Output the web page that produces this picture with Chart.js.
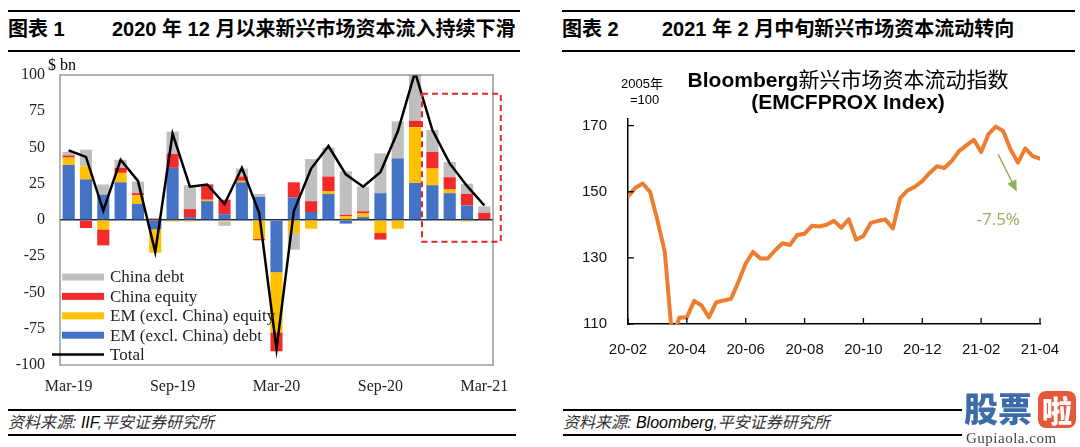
<!DOCTYPE html>
<html>
<head>
<meta charset="utf-8">
<script src="https://cdn.jsdelivr.net/npm/chart.js@4.4.1/dist/chart.umd.min.js"></script>
<style>
  body { margin: 0; width: 1080px; height: 447px; background: #fff; position: relative; overflow: hidden;
         font-family: "Liberation Sans", "Noto Sans CJK SC", sans-serif; color: #000; }
  .hdr { position: absolute; top: 10px; height: 38px; border-top: 2px solid #000; border-bottom: 2px solid #000;
         font-weight: bold; font-size: 20px; line-height: 34px; white-space: nowrap; }
  .hdr .ttl { position: absolute; top: 0; }
  .ftr { position: absolute; top: 409px; height: 23px; border-top: 2px solid #000; border-bottom: 2px solid #000;
         font-style: italic; font-size: 16px; line-height: 23px; color: #333; white-space: nowrap; }
  .ftr b { font-weight: normal; color: #000; }
  .box { position: absolute; top: 50px; width: 540px; height: 350px; }
  .unit { position: absolute; left: 48px; top: 56px; font: 16px "Liberation Serif", serif; }
  .sub { position: absolute; font-size: 13px; line-height: 18px; }
  .big { position: absolute; left: 640px; width: 416px; text-align: center; font-size: 21px; line-height: 22px; font-weight: bold; }
  .big span { font-weight: normal; }
  .wm { position: absolute; left: 962px; top: 388px; width: 118px; height: 59px; background: #fff; }
  .wm .wb { position: absolute; left: 2px; top: 0; font: 900 34px "Noto Sans CJK SC", sans-serif; color: #3d6cab; line-height: 40px; }
  .wm .wr { position: absolute; left: 76px; top: 3px; width: 38px; height: 37px; border-radius: 8px; background: #e5583a;
            color: #fff; font: 900 30px "Noto Sans CJK SC", sans-serif; line-height: 37px; text-align: center; }
  .wm .wu { position: absolute; left: 4px; top: 42px; font: 15px "Liberation Serif", serif; color: #444; letter-spacing: 0.5px; }
</style>
</head>
<body>
<div class="hdr" style="left:8px;width:512px;"><span>图表 1</span><span class="ttl" style="left:104px;">2020 年 12 月以来新兴市场资本流入持续下滑</span></div>
<div class="hdr" style="left:562px;width:513px;"><span>图表 2</span><span class="ttl" style="left:100px;">2021 年 2 月中旬新兴市场资本流动转向</span></div>

<div class="box" style="left:0;"><canvas id="flowChart"></canvas></div>
<div class="unit">$ bn</div>

<div class="box" style="left:540px;"><canvas id="emcfChart"></canvas></div>
<div class="sub" style="left:621px;top:75px;">2005年</div>
<div class="sub" style="left:630px;top:91px;">=100</div>
<div class="big" style="top:69px;">Bloomberg<span>新兴市场资本流动指数</span></div>
<div class="big" style="top:91px;">(EMCFPROX Index)</div>

<div class="ftr" style="left:8px;width:508px;">资料来源: <b>IIF</b>,平安证券研究所</div>
<div class="ftr" style="left:563px;width:512px;">资料来源: <b>Bloomberg</b>,平安证券研究所</div>

<div class="wm"><span class="wb">股票</span><span class="wr">啦</span><div class="wu">Gupiaola.com</div></div>

<script>
// 图表 1: 新兴市场资本流动 ($ bn)
const flowMonths = ['Mar-19','Apr-19','May-19','Jun-19','Jul-19','Aug-19','Sep-19','Oct-19','Nov-19','Dec-19',
  'Jan-20','Feb-20','Mar-20','Apr-20','May-20','Jun-20','Jul-20','Aug-20','Sep-20','Oct-20',
  'Nov-20','Dec-20','Jan-21','Feb-21','Mar-21'];
const emDebt      = [38, 28, 17.5, 26, 11, -6.5, 36, 2, 13, 4, 26, 16, -36, 15.5, 5.5, 18, -2.5, 2, 18.5, 42.5, 25.5, 24, 18.5, 10, 0];
const emEquity    = [5, 9, -6.5, 6.5, 6, -16, -1, -1, 1, -1, 1, -13, -41.5, -9, -6, 2, 2.5, 2.5, -9, -6, 38.5, 11.5, 2.5, -1, 0];
const chinaEquity = [1.5, -5.5, -11, 3.5, 1.5, 1, 9.5, 5.5, 10.5, 10, 3, -1, -13, 10.5, 7.5, 10, 1, 1.5, -4.5, 0, 4.5, 11.5, 8.5, 8, 5];
const chinaDebt   = [2.5, 11.5, 7, 5.5, 8, 0, 15.5, 16.5, 0, -3, 5.5, 2, 0, -11.5, 29, 20, 30, 17, 27.5, 25.5, 33, 15, 10.5, 7, 4.5];
const flowTotal   = [48, 43.5, 6.5, 41.5, 27, -22, 59.5, 23, 24.5, 11, 36, 5, -89, 6, 35.5, 51, 31.5, 23, 33, 61, 102, 62, 39, 23.5, 10];
const flowTicks   = [100, 75, 50, 25, 0, -25, -50, -75, -100];

// 图表 2: Bloomberg 新兴市场资本流动指数, 约每周一个点 (2020-02 起)
const emcfTickLabels = ['20-02', '20-04', '20-06', '20-08', '20-10', '20-12', '21-02', '21-04'];
const emcfValues = [148.6, 151.2, 152.5, 149.9, 141.4, 131.8, 106, 112, 112, 117, 115.6, 112, 116.6, 117.1, 117.6,
  122.7, 128.3, 131.8, 129.8, 129.8, 132.3, 134.4, 133.9, 136.9, 137.3, 139.7, 139.5, 140, 141.2, 139.1,
  141.7, 135.5, 136.6, 140.6, 141.2, 141.6, 138.9, 148.1, 150.4, 151.5, 153.2, 155.7, 157.7, 157.2, 159.3,
  162.3, 164, 165.7, 162, 167.4, 169.7, 168.4, 162.8, 158.8, 163.1, 160.8, 160];
const emcfYTicks = [110, 130, 150, 170];

const serif = '"Liberation Serif", "Times New Roman", serif';

// 图例画在图内左下角
const flowLegend = {
  id: 'flowLegend',
  afterDraw(chart) {
    const { ctx, chartArea } = chart;
    const order = [3, 2, 1, 0, 4];
    ctx.save();
    ctx.font = '17px ' + serif;
    ctx.textBaseline = 'middle';
    order.forEach((di, i) => {
      const ds = chart.data.datasets[di];
      const y = chartArea.bottom - 88 + i * 19.4;
      if (ds.type === 'line') {
        ctx.strokeStyle = ds.borderColor;
        ctx.lineWidth = 2.5;
        ctx.beginPath();
        ctx.moveTo(chartArea.left - 8, y);
        ctx.lineTo(chartArea.left + 44, y);
        ctx.stroke();
      } else {
        ctx.fillStyle = ds.backgroundColor;
        ctx.fillRect(chartArea.left + 2, y - 3.5, 42, 7);
      }
      ctx.fillStyle = '#222';
      ctx.fillText(ds.label, chartArea.left + 50, y + 1);
    });
    ctx.restore();
  }
};

// 图框 + 红色虚线框
const flowFrame = {
  id: 'flowFrame',
  afterDraw(chart) {
    const { ctx, chartArea, scales: { x, y } } = chart;
    ctx.save();
    ctx.strokeStyle = '#7f7f7f';
    ctx.lineWidth = 1.2;
    ctx.strokeRect(chartArea.left, chartArea.top, chartArea.right - chartArea.left, chartArea.bottom - chartArea.top);
    const l = x.getPixelForValue(20.4), r = x.getPixelForValue(24.95);
    const t = y.getPixelForValue(87), b = y.getPixelForValue(-15);
    ctx.strokeStyle = '#e0262a';
    ctx.lineWidth = 2;
    ctx.setLineDash([6, 4]);
    ctx.strokeRect(l, t, r - l, b - t);
    ctx.restore();
  }
};

new Chart(document.getElementById('flowChart'), {
  type: 'bar',
  data: {
    labels: flowMonths,
    datasets: [
      { label: 'EM (excl. China) debt', data: emDebt, backgroundColor: '#4472c4', order: 1 },
      { label: 'EM (excl. China) equity', data: emEquity, backgroundColor: '#ffc000', order: 1 },
      { label: 'China equity', data: chinaEquity, backgroundColor: '#f22a2a', order: 1 },
      { label: 'China debt', data: chinaDebt, backgroundColor: '#bfbfbf', order: 1 },
      { label: 'Total', type: 'line', data: flowTotal, borderColor: '#000', borderWidth: 2.5,
        pointRadius: 0, tension: 0, stack: 'total', order: 0 }
    ]
  },
  options: {
    responsive: true,
    maintainAspectRatio: false,
    animation: false,
    barPercentage: 0.7,
    categoryPercentage: 1,
    layout: { padding: { left: 0, right: 47, top: 25, bottom: 0 } },
    plugins: { legend: { display: false }, tooltip: { enabled: false } },
    scales: {
      x: {
        stacked: true,
        grid: { display: false },
        border: { display: false },
        afterFit: (s) => { s.height = 35; },
        ticks: {
          autoSkip: false, maxRotation: 0, padding: 4, color: '#222',
          font: { family: serif, size: 16 },
          callback: (v, i) => (i % 6 === 0 ? flowMonths[i] : '')
        }
      },
      y: {
        stacked: true,
        min: -100, max: 100,
        afterFit: (s) => { s.width = 60; },
        afterBuildTicks: (s) => { s.ticks = flowTicks.map((v) => ({ value: v })); },
        border: { display: false },
        grid: { drawTicks: false, lineWidth: 1.4, color: (c) => (c.tick && c.tick.value === 0 ? '#1f2a44' : 'rgba(0,0,0,0)') },
        ticks: { padding: 15, color: '#222', font: { family: serif, size: 16 } }
      }
    }
  },
  plugins: [flowFrame, flowLegend]
});

// 内向刻度 + 箭头注释
const emcfDecor = {
  id: 'emcfDecor',
  afterDraw(chart) {
    const { ctx, scales: { x, y } } = chart;
    ctx.save();
    ctx.strokeStyle = '#000';
    ctx.lineWidth = 1.3;
    x.ticks.forEach((t) => {
      const px = x.getPixelForValue(t.value);
      ctx.beginPath(); ctx.moveTo(px, y.bottom); ctx.lineTo(px, y.bottom - 6); ctx.stroke();
    });
    y.ticks.forEach((t) => {
      const py = y.getPixelForValue(t.value);
      ctx.beginPath(); ctx.moveTo(x.left, py); ctx.lineTo(x.left + 6, py); ctx.stroke();
    });
    // -7.5% 箭头
    const x0 = x.getPixelForValue(12.58), y0 = y.getPixelForValue(161.3);
    const x1 = x.getPixelForValue(13.21), y1 = y.getPixelForValue(150.1);
    const ang = Math.atan2(y1 - y0, x1 - x0);
    ctx.strokeStyle = '#8fb05a';
    ctx.fillStyle = '#8fb05a';
    ctx.lineWidth = 1.5;
    ctx.beginPath(); ctx.moveTo(x0, y0);
    ctx.lineTo(x1 - 8 * Math.cos(ang), y1 - 8 * Math.sin(ang)); ctx.stroke();
    ctx.beginPath();
    ctx.moveTo(x1, y1);
    ctx.lineTo(x1 - 11 * Math.cos(ang) + 5 * Math.sin(ang), y1 - 11 * Math.sin(ang) - 5 * Math.cos(ang));
    ctx.lineTo(x1 - 11 * Math.cos(ang) - 5 * Math.sin(ang), y1 - 11 * Math.sin(ang) + 5 * Math.cos(ang));
    ctx.closePath(); ctx.fill();
    ctx.font = '17px "Open Sans", sans-serif';
    ctx.textAlign = 'center';
    ctx.textBaseline = 'middle';
    ctx.fillStyle = '#93b25e';
    ctx.fillText('-7.5%', x.getPixelForValue(12.58), y.getPixelForValue(141.5));
    ctx.restore();
  }
};

new Chart(document.getElementById('emcfChart'), {
  type: 'line',
  data: {
    datasets: [{
      label: 'EMCFPROX',
      data: emcfValues.map((v, i) => ({ x: i / 4, y: v })),
      borderColor: '#ed7d31', borderWidth: 4, pointRadius: 0, tension: 0,
      borderJoinStyle: 'round', borderCapStyle: 'round'
    }]
  },
  options: {
    responsive: true,
    maintainAspectRatio: false,
    animation: false,
    layout: { padding: { left: 0, right: 40, top: 69, bottom: 0 } },
    plugins: { legend: { display: false }, tooltip: { enabled: false } },
    scales: {
      x: {
        type: 'linear', min: 0, max: 14,
        afterFit: (s) => { s.height = 76; },
        afterBuildTicks: (s) => { s.ticks = emcfTickLabels.map((l, i) => ({ value: i * 2 })); },
        grid: { display: false },
        border: { display: true, color: '#000', width: 1.5 },
        ticks: { padding: 9, color: '#111', font: { size: 15, family: '"Liberation Sans", sans-serif' },
                 callback: (v) => emcfTickLabels[Math.round(v / 2)] }
      },
      y: {
        min: 110, max: 172,
        afterFit: (s) => { s.width = 88; },
        afterBuildTicks: (s) => { s.ticks = emcfYTicks.map((v) => ({ value: v })); },
        grid: { display: false },
        border: { display: true, color: '#000', width: 1.5 },
        ticks: { padding: 13, color: '#111', font: { size: 15, family: '"Liberation Sans", sans-serif' } }
      }
    }
  },
  plugins: [emcfDecor]
});
</script>
</body>
</html>
